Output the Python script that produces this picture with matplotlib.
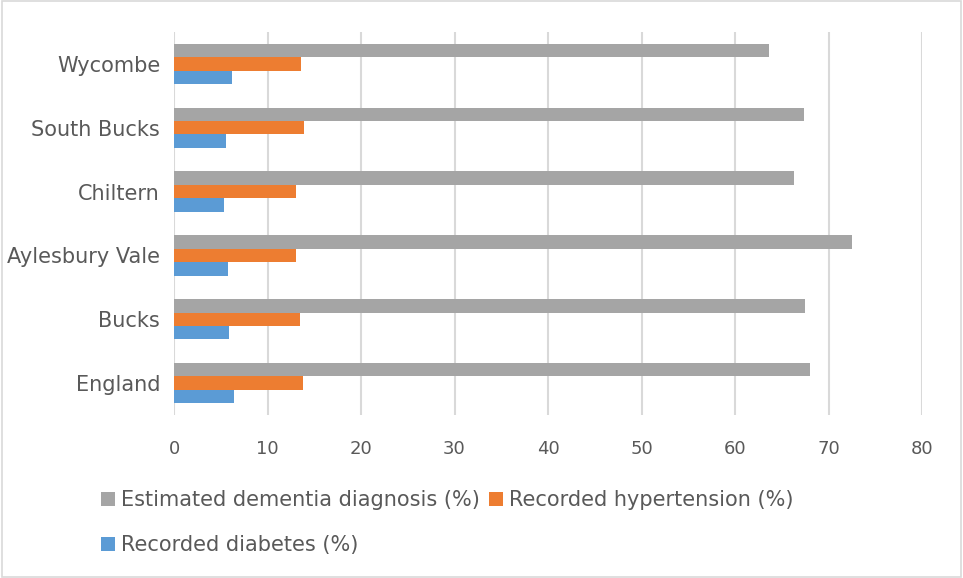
import matplotlib.pyplot as plt
import numpy as np
from matplotlib.patches import Rectangle

# Areas (bottom to top) and their three indicators, in percent
areas = ["England", "Bucks", "Aylesbury Vale", "Chiltern", "South Bucks", "Wycombe"]
dementia = [68.0, 67.5, 72.5, 66.3, 67.4, 63.6]
hypertension = [13.8, 13.5, 13.1, 13.1, 13.9, 13.6]
diabetes = [6.4, 5.9, 5.8, 5.4, 5.6, 6.15]

series_names = ["Estimated dementia diagnosis (%)", "Recorded hypertension (%)", "Recorded diabetes (%)"]
colours = ["#A5A5A5", "#ED7D31", "#5B9BD5"]
text_col = "#595959"

plt.rcParams["font.family"] = ["DejaVu Sans"]

fig = plt.figure(figsize=(9.63, 5.78), dpi=100)
ax = fig.add_axes([174 / 963, 1 - 415 / 578, 748 / 963, 383 / 578])

y = np.arange(len(areas))
h = 0.21
bars = []
for k, (vals, c) in enumerate(zip([dementia, hypertension, diabetes], colours)):
    bars.append(ax.barh(y + (1 - k) * h, vals, height=h, color=c, zorder=3))

ax.set_xlim(0, 80)
ax.set_ylim(-0.5, len(areas) - 0.5)
ax.set_xticks(range(0, 81, 10))
ax.set_yticks(y)
ax.set_yticklabels(areas)
ax.xaxis.grid(True, color="#D9D9D9", linewidth=1.5, zorder=0)
ax.set_axisbelow(True)
for s in ax.spines.values():
    s.set_visible(False)
ax.tick_params(axis="both", length=0, colors=text_col)
ax.tick_params(axis="x", pad=18, labelsize=13)
ax.tick_params(axis="y", pad=10, labelsize=15)

# legend laid out in two rows below the plot
leg_kw = dict(loc="center left", frameon=False, fontsize=15, handlelength=0.67,
              handleheight=0.67, handletextpad=0.29, labelcolor=text_col,
              borderaxespad=0, borderpad=0)
fig.legend([bars[0], bars[1]], series_names[:2], ncol=2, columnspacing=0.43,
           bbox_to_anchor=(101 / 963, 1 - 500 / 578), **leg_kw)
fig.legend([bars[2]], series_names[2:],
           bbox_to_anchor=(101 / 963, 1 - 545 / 578), **leg_kw)

# thin border around the whole chart
fig.patches.append(Rectangle((0.002, 0.002), 0.996, 0.996, transform=fig.transFigure,
                             fill=False, edgecolor="#D9D9D9", linewidth=1.2))

fig.savefig("out.png", dpi=100)
